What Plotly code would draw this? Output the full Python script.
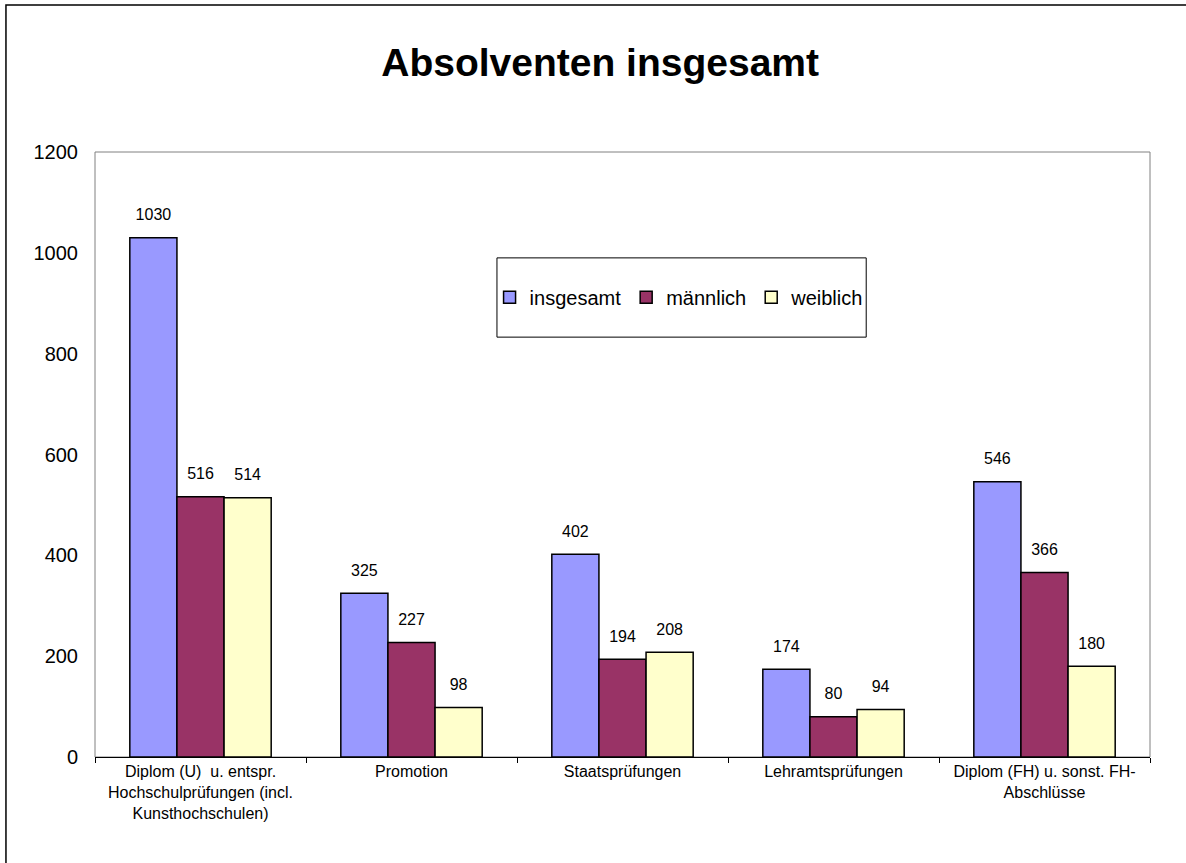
import plotly.graph_objects as go

categories = [
    "Diplom (U)  u. entspr.<br>Hochschulprüfungen (incl.<br>Kunsthochschulen)",
    "Promotion",
    "Staatsprüfungen",
    "Lehramtsprüfungen",
    "Diplom (FH) u. sonst. FH-<br>Abschlüsse",
]
insgesamt = [1030, 325, 402, 174, 546]
maennlich = [516, 227, 194, 80, 366]
weiblich = [514, 98, 208, 94, 180]

series = [
    ("insgesamt", insgesamt, "#9999FF"),
    ("männlich", maennlich, "#993366"),
    ("weiblich", weiblich, "#FFFFCC"),
]

font = "Liberation Sans, Arial, sans-serif"

fig = go.Figure()
for name, vals, col in series:
    fig.add_trace(go.Bar(
        x=categories, y=vals, name=name,
        marker=dict(color=col, line=dict(color="black", width=1.5)),
    ))
# value labels, lifted a bit above the bars like in Excel
for name, vals, col in series:
    fig.add_trace(go.Scatter(
        x=categories, y=vals, mode="markers+text", showlegend=False,
        text=[str(v) for v in vals], textposition="top center",
        textfont=dict(size=16, color="black"),
        marker=dict(size=20, color="rgba(0,0,0,0)"), cliponaxis=False,
        hoverinfo="skip",
    ))

fig.update_layout(
    width=1186, height=863,
    margin=dict(l=95, r=36, t=152, b=106),
    paper_bgcolor="white", plot_bgcolor="white",
    font=dict(family=font, color="black"),
    barmode="group", bargap=0.33, bargroupgap=0,
    scattermode="group", scattergap=0.33,
    title=dict(text="<b>Absolventen insgesamt</b>", x=0.506, xanchor="center",
               y=0.928, yanchor="middle", font=dict(size=39, family=font)),
    legend=dict(orientation="h", x=0.374, y=0.76, xanchor="left", yanchor="middle",
                borderwidth=0, bgcolor="rgba(0,0,0,0)",
                font=dict(size=20), itemwidth=30),
    showlegend=True,
)
fig.update_yaxes(range=[0, 1200], dtick=200, showgrid=False, zeroline=False,
                 ticks="", showline=False,
                 tickfont=dict(size=20), ticklabelstandoff=16)
fig.update_xaxes(showgrid=False, ticks="outside", tickson="boundaries", ticklen=5,
                 tickcolor="black", showline=True, linecolor="black", linewidth=1,
                 tickfont=dict(size=16))

# plot area frame, legend box and outer chart frame
fig.add_shape(type="rect", xref="paper", yref="paper", x0=0, x1=1, y0=0, y1=1,
              line=dict(color="#808080", width=1), layer="below")
fig.add_shape(type="rect", xref="paper", yref="paper", x0=0.381, x1=0.731,
              y0=0.694, y1=0.825, line=dict(color="black", width=1),
              fillcolor="white", layer="below")
fig.add_shape(type="rect", xref="paper", yref="paper", x0=-0.0844, x1=1.05,
              y0=-0.2, y1=1.243, line=dict(color="black", width=1.5))

fig.write_html("out.html", config={"displayModeBar": False},
               post_script="document.body.style.margin='0';")
